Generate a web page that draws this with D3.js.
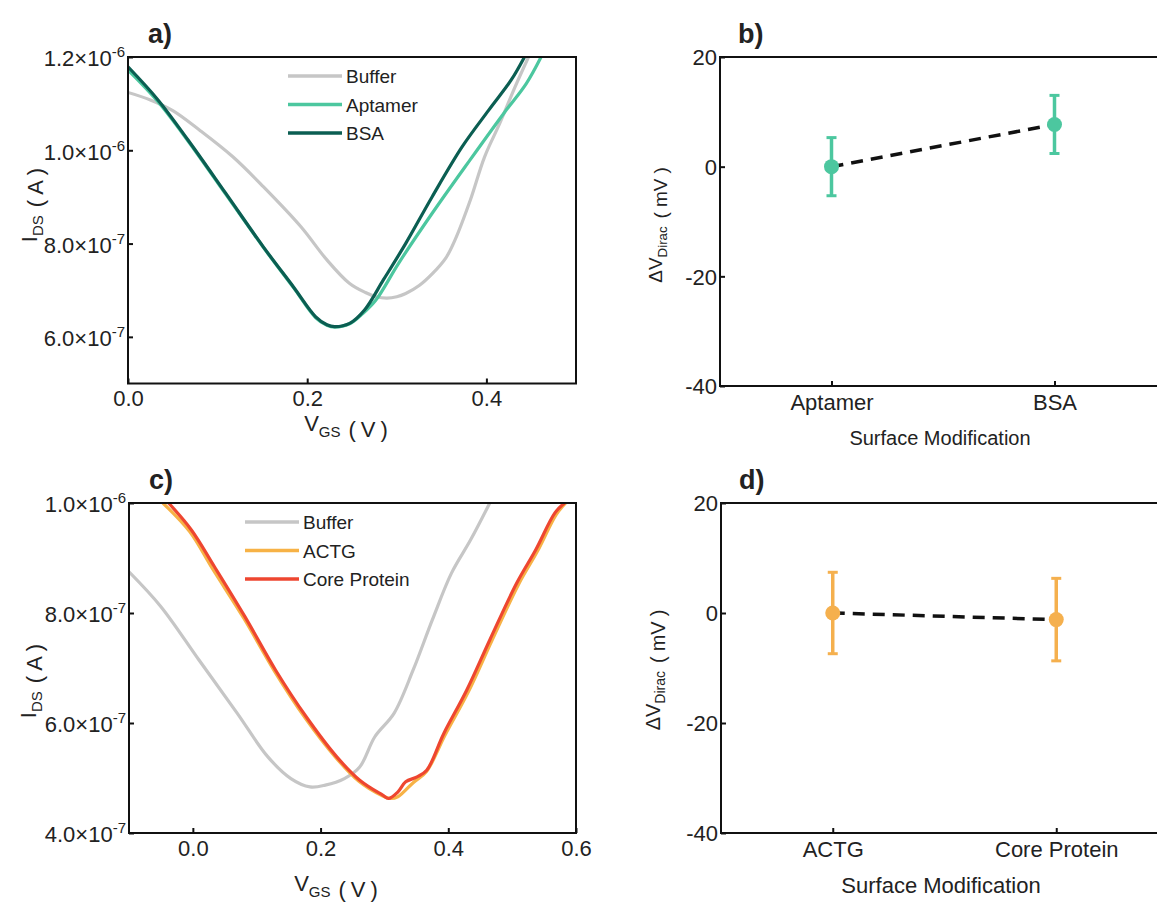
<!DOCTYPE html>
<html><head><meta charset="utf-8">
<script src="https://cdn.jsdelivr.net/npm/d3@7"></script>
<style>
body{margin:0;background:#fff}
text{font-family:"Liberation Sans",Arial,sans-serif;fill:#222}
</style>
</head><body>
<svg id="chart" width="1157" height="905"></svg>
<script>
// ---------- DATA ----------
// Panel a: transfer curves [VGS (V), IDS (A)]
const bufferA = [[0,1.124e-6],[0.025,1.108e-6],[0.05,1.085e-6],[0.08,1.043e-6],[0.117,0.986e-6],[0.151,0.922e-6],[0.193,0.836e-6],[0.222,0.765e-6],[0.247,0.715e-6],[0.265,0.695e-6],[0.277,0.686e-6],[0.289,0.683e-6],[0.300,0.686e-6],[0.310,0.693e-6],[0.325,0.710e-6],[0.340,0.736e-6],[0.355,0.770e-6],[0.365,0.808e-6],[0.382,0.893e-6],[0.398,0.986e-6],[0.415,1.058e-6],[0.432,1.136e-6],[0.447,1.2e-6]];
const aptamerA = [[0,1.172e-6],[0.0335,1.104e-6],[0.067,1.020e-6],[0.109,0.906e-6],[0.151,0.792e-6],[0.1845,0.706e-6],[0.2095,0.641e-6],[0.222,0.625e-6],[0.2306,0.621e-6],[0.2474,0.628e-6],[0.262,0.650e-6],[0.2767,0.679e-6],[0.302,0.7577e-6],[0.3395,0.865e-6],[0.3816,0.979e-6],[0.4193,1.079e-6],[0.4445,1.143e-6],[0.461,1.2e-6]];
const bsaA = [[0,1.179e-6],[0.0335,1.108e-6],[0.067,1.022e-6],[0.109,0.908e-6],[0.151,0.793e-6],[0.1845,0.7075e-6],[0.2095,0.643e-6],[0.222,0.626e-6],[0.2306,0.622e-6],[0.2474,0.629e-6],[0.264,0.6576e-6],[0.285,0.722e-6],[0.310,0.8005e-6],[0.3395,0.9005e-6],[0.373,1.0077e-6],[0.4026,1.086e-6],[0.4277,1.1507e-6],[0.4425,1.2e-6]];
const seriesNamesA = ["Buffer","Aptamer","BSA"];
const seriesColorsA = ["#c6c6c6","#4cc79f","#0b5e52"];
const xTicksA = [0,0.2,0.4];
const yTicksA = [6e-7,8e-7,1e-6,1.2e-6];

// Panel c
const bufferC = [[-0.1,0.875e-6],[-0.0503,0.812e-6],[0.0096,0.7145e-6],[0.0696,0.6175e-6],[0.1175,0.5384e-6],[0.1535,0.499e-6],[0.1835,0.4838e-6],[0.2074,0.487e-6],[0.2373,0.499e-6],[0.2613,0.52e-6],[0.285,0.575e-6],[0.315,0.6175e-6],[0.345,0.6964e-6],[0.375,0.7874e-6],[0.405,0.8725e-6],[0.435,0.933e-6],[0.465,1.0e-6]];
const actgC = [[-0.047,1.0e-6],[-0.005,0.948e-6],[0.031,0.880e-6],[0.080,0.790e-6],[0.128,0.694e-6],[0.176,0.609e-6],[0.224,0.537e-6],[0.260,0.494e-6],[0.296,0.468e-6],[0.308,0.463e-6],[0.321,0.466e-6],[0.345,0.4915e-6],[0.366,0.512e-6],[0.395,0.578e-6],[0.432,0.658e-6],[0.468,0.749e-6],[0.510,0.852e-6],[0.540,0.913e-6],[0.569,0.979e-6],[0.584,1.0e-6]];
const coreC = [[-0.038,1.0e-6],[-0.0023,0.951e-6],[0.0336,0.8845e-6],[0.0815,0.7934e-6],[0.1294,0.6964e-6],[0.1775,0.6113e-6],[0.2254,0.5384e-6],[0.2613,0.496e-6],[0.2973,0.4687e-6],[0.3062,0.4627e-6],[0.3212,0.4747e-6],[0.3333,0.493e-6],[0.3512,0.502e-6],[0.3662,0.514e-6],[0.393,0.581e-6],[0.429,0.66e-6],[0.465,0.751e-6],[0.507,0.854e-6],[0.537,0.915e-6],[0.567,0.982e-6],[0.582,1.0e-6]];
const seriesNamesC = ["Buffer","ACTG","Core Protein"];
const seriesColorsC = ["#c6c6c6","#f7b246","#ee4630"];
const xTicksC = [0,0.2,0.4,0.6];
const yTicksC = [4e-7,6e-7,8e-7,1e-6];

// Panel b
const catsB = ["Aptamer","BSA"];
const meanB = [0,7.7];
const errB = [5.3,5.3];
// Panel d
const catsD = ["ACTG","Core Protein"];
const meanD = [0,-1.2];
const errD = [7.4,7.5];
const yTicksBD = [-40,-20,0,20];

// ---------- DRAW ----------
const svg = d3.select("#chart");
svg.append("rect").attr("width",1157).attr("height",905).attr("fill","#fff");
const defs = svg.append("defs");

function sciLabel(sel, d){
  const e = Math.floor(Math.log10(d)+1e-9);
  const m = d/Math.pow(10,e);
  sel.text(null);
  sel.append("tspan").text(m.toFixed(1)+"×10");
  sel.append("tspan").attr("font-size",15).attr("dy",-9).text(String(e));
}

function parenTitle(t, size, inner){
  t.append("tspan").attr("dx",8).attr("font-size",size).text("(");
  t.append("tspan").attr("dx",5).attr("font-size",size).text(inner);
  t.append("tspan").attr("dx",5).attr("font-size",size).text(")");
}

function linePanel(o){
  const g = svg.append("g");
  const x = d3.scaleLinear().domain(o.xDom).range([o.L,o.R]);
  const y = d3.scaleLinear().domain(o.yDom).range([o.B,o.T]);
  const id = "clip"+o.key;
  defs.append("clipPath").attr("id",id).append("rect")
    .attr("x",o.L).attr("y",o.T).attr("width",o.R-o.L).attr("height",o.B-o.T);
  const line = d3.line().x(d=>x(d[0])).y(d=>y(d[1])).curve(d3.curveCatmullRom.alpha(0.5));
  o.series.forEach((s,i)=>{
    g.append("path").datum(s).attr("d",line).attr("fill","none")
     .attr("stroke",o.colors[i]).attr("stroke-width",3.2).attr("stroke-linejoin","round")
     .attr("clip-path","url(#"+id+")");
  });
  g.append("rect").attr("x",o.L).attr("y",o.T).attr("width",o.R-o.L).attr("height",o.B-o.T)
    .attr("fill","none").attr("stroke","#111").attr("stroke-width",2);
  const xa = g.append("g").attr("transform",`translate(0,${o.B})`)
    .call(d3.axisBottom(x).tickValues(o.xTicks).tickSize(-5).tickFormat(d3.format(".1f")));
  xa.select(".domain").remove();
  xa.selectAll("line").attr("stroke","#111").attr("stroke-width",2);
  xa.selectAll("text").attr("font-size",22).attr("fill","#222").attr("dy","0.71em").attr("y",o.xLabY);
  const ya = g.append("g").attr("transform",`translate(${o.L},0)`)
    .call(d3.axisLeft(y).tickValues(o.yTicks).tickSize(-5));
  ya.select(".domain").remove();
  ya.selectAll("line").attr("stroke","#111").attr("stroke-width",2);
  ya.selectAll("text").attr("font-size",22).attr("fill","#222").attr("x",-3).attr("dy","0.4em")
    .each(function(d){ sciLabel(d3.select(this), d); });
  o.names.forEach((n,i)=>{
    const yy = o.legY + i*o.legDy;
    g.append("line").attr("x1",o.legX).attr("x2",o.legX+54).attr("y1",yy).attr("y2",yy)
      .attr("stroke",o.colors[i]).attr("stroke-width",3.5);
    g.append("text").attr("x",o.legX+58).attr("y",yy+7).attr("font-size",19).text(n);
  });
  const xt = g.append("text").attr("x",o.xTitleX).attr("y",o.xTitleY).attr("text-anchor","middle").attr("font-size",22);
  xt.append("tspan").text("V");
  xt.append("tspan").attr("font-size",15).attr("dy",6).text("GS");
  xt.append("tspan").attr("dy",-6).attr("font-size",0).text("");
  parenTitle(xt,22,"V");
  const yt = g.append("text").attr("transform",`translate(${o.yTitleX},${o.yTitleY}) rotate(-90)`)
    .attr("text-anchor","middle").attr("font-size",22);
  yt.append("tspan").text("I");
  yt.append("tspan").attr("font-size",15).attr("dy",6).text("DS");
  yt.append("tspan").attr("dy",-6).attr("font-size",0).text("");
  parenTitle(yt,22,"A");
  g.append("text").attr("x",o.L+20).attr("y",o.T-14).attr("font-size",27).attr("font-weight","bold").attr("fill","#111").text(o.label);
}

function pointPanel(o){
  const g = svg.append("g");
  const x = d3.scalePoint().domain(o.cats).range([o.L,o.R]).padding(0.5);
  const y = d3.scaleLinear().domain([-40,20]).range([o.B,o.T]);
  g.append("path").attr("d",`M${o.R},${o.T}H${o.L}V${o.B}H${o.R}`).attr("fill","none")
    .attr("stroke","#111").attr("stroke-width",2);
  const xa = g.append("g").attr("transform",`translate(0,${o.B})`)
    .call(d3.axisBottom(x).tickSize(-5));
  xa.select(".domain").remove();
  xa.selectAll("line").attr("stroke","#111").attr("stroke-width",2);
  xa.selectAll("text").attr("font-size",22).attr("fill","#222").attr("y",8).attr("dy","0.71em");
  const ya = g.append("g").attr("transform",`translate(${o.L},0)`)
    .call(d3.axisLeft(y).tickValues(yTicksBD).tickSize(-5).tickFormat(d=>String(d)));
  ya.select(".domain").remove();
  ya.selectAll("line").attr("stroke","#111").attr("stroke-width",2);
  ya.selectAll("text").attr("font-size",22).attr("fill","#222").attr("x",-3).attr("dy","0.36em");
  const ln = d3.line().x((d,i)=>x(o.cats[i])).y(d=>y(d));
  g.append("path").datum(o.mean).attr("d",ln).attr("fill","none").attr("stroke","#111")
    .attr("stroke-width",3.5).attr("stroke-dasharray","12,8");
  o.cats.forEach((c,i)=>{
    const cx = x(c), m=o.mean[i], e=o.err[i];
    g.append("line").attr("x1",cx).attr("x2",cx).attr("y1",y(m-e)).attr("y2",y(m+e))
      .attr("stroke",o.color).attr("stroke-width",3.5);
    [m-e,m+e].forEach(v=>g.append("line").attr("x1",cx-5).attr("x2",cx+5).attr("y1",y(v)).attr("y2",y(v))
      .attr("stroke",o.color).attr("stroke-width",3));
    g.append("circle").attr("cx",cx).attr("cy",y(m)).attr("r",7.5).attr("fill",o.color);
  });
  g.append("text").attr("x",o.xTitleX).attr("y",o.xTitleY).attr("text-anchor","middle")
    .attr("font-size",o.xTitleSize).text("Surface Modification");
  const yt = g.append("text").attr("transform",`translate(${o.yTitleX},${o.yTitleY}) rotate(-90)`)
    .attr("text-anchor","middle").attr("font-size",o.yTitleSize);
  yt.append("tspan").text("ΔV");
  yt.append("tspan").attr("font-size",o.yTitleSize*0.7).attr("dy",5).text("Dirac");
  yt.append("tspan").attr("dy",-5).attr("font-size",0).text("");
  parenTitle(yt,o.yTitleSize,"mV");
  g.append("text").attr("x",o.L+18).attr("y",o.T-14).attr("font-size",27).attr("font-weight","bold").attr("fill","#111").text(o.label);
}

linePanel({key:"a",label:"a)",L:128,R:576,T:57,B:383.5,xDom:[0,0.5],yDom:[5e-7,1.2e-6],
  series:[bufferA,aptamerA,bsaA],colors:seriesColorsA,names:seriesNamesA,xTicks:xTicksA,yTicks:yTicksA,
  xLabY:7,legX:288,legY:76,legDy:28.5,xTitleX:346,xTitleY:431,yTitleX:37,yTitleY:205});
linePanel({key:"c",label:"c)",L:129,R:576,T:503,B:833,xDom:[-0.1,0.6],yDom:[4e-7,1e-6],
  series:[bufferC,actgC,coreC],colors:seriesColorsC,names:seriesNamesC,xTicks:xTicksC,yTicks:yTicksC,
  xLabY:7,legX:245,legY:522,legDy:28.5,xTitleX:336,xTitleY:891,yTitleX:36,yTitleY:681});

pointPanel({label:"b)",L:720,R:1166,T:57,B:386,cats:catsB,mean:meanB,err:errB,color:"#4cc79f",
  xTitleX:940,xTitleY:445,xTitleSize:20,yTitleX:662,yTitleY:225,yTitleSize:19});
pointPanel({label:"d)",L:721,R:1168,T:503,B:833,cats:catsD,mean:meanD,err:errD,color:"#f5b04e",
  xTitleX:941,xTitleY:893,xTitleSize:22,yTitleX:660,yTitleY:670,yTitleSize:20});
</script>
</body></html>
